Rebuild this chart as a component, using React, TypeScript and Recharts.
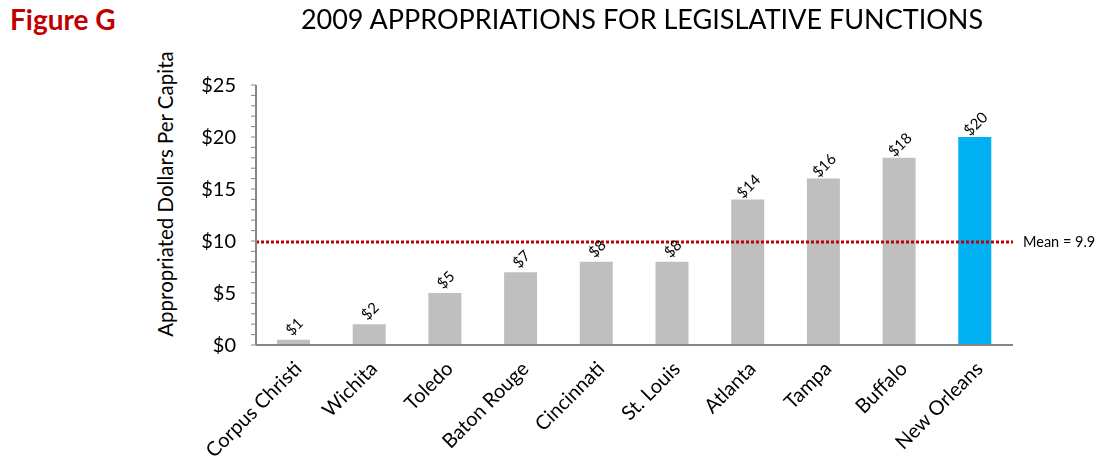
import { BarChart, Bar, XAxis, YAxis, Cell, LabelList, ReferenceLine } from 'recharts';

const cities = [
  'Corpus Christi',
  'Wichita',
  'Toledo',
  'Baton Rouge',
  'Cincinnati',
  'St. Louis',
  'Atlanta',
  'Tampa',
  'Buffalo',
  'New Orleans',
];
const perCapita = [0.5, 2, 5, 7, 8, 8, 14, 16, 18, 20];
const highlightCity = 'New Orleans';
const meanValue = 9.9;
const yTicks = [0, 1, 2, 3, 4, 5, 6, 7, 8, 9, 10, 11, 12, 13, 14, 15, 16, 17, 18, 19, 20, 21, 22, 23, 24, 25];
const yMajorTicks = [0, 5, 10, 15, 20, 25];

const FONT = 'Lato, "Open Sans", sans-serif';
const GRAY = '#bfbfbf';
const BLUE = '#00b0f0';
const AXIS = '#868686';

const data = cities.map((city, i) => ({ city, value: perCapita[i] }));

function YTick(props: any) {
  const { x, y, payload } = props;
  if (!yMajorTicks.includes(payload.value)) return null;
  return (
    <text x={x} y={y} dy={7} textAnchor="end" fontSize={20} fill="#000" fontFamily={FONT}>
      {`$${payload.value}`}
    </text>
  );
}

function XTick(props: any) {
  const { x, y, payload } = props;
  return (
    <g transform={`translate(${x + 9},${y + 17})`}>
      <text transform="rotate(-45)" textAnchor="end" fontSize={20} fill="#000" fontFamily={FONT}>
        {payload.value}
      </text>
    </g>
  );
}

function BarValue(props: any) {
  const { x, y, width, value } = props;
  const cx = x + width / 2 + 1;
  const cy = y - 13;
  return (
    <text
      x={cx}
      y={cy}
      dy={5}
      transform={`rotate(-45, ${cx}, ${cy})`}
      textAnchor="middle"
      fontSize={15}
      fill="#000"
      fontFamily={FONT}
    >
      {`$${Math.round(value)}`}
    </text>
  );
}

export default function App() {
  return (
    <div style={{ position: 'fixed', left: 0, top: 0, width: 1097, height: 466, background: '#fff', fontFamily: FONT }}>
      <div style={{ position: 'absolute', left: 10, top: 2, fontSize: 28, fontWeight: 700, color: '#c00000' }}>
        Figure G
      </div>
      <div style={{ position: 'absolute', left: 0, width: 1284, top: 2, textAlign: 'center', fontSize: 27, color: '#000' }}>
        2009 APPROPRIATIONS FOR LEGISLATIVE FUNCTIONS
      </div>
      <div
        style={{
          position: 'absolute',
          left: 165,
          top: 194,
          transform: 'translate(-50%, -50%) rotate(-90deg)',
          whiteSpace: 'nowrap',
          fontSize: 20.5,
          color: '#000',
        }}
      >
        Appropriated Dollars Per Capita
      </div>
      <BarChart
        width={1097}
        height={466}
        data={data}
        margin={{ top: 85, right: 84, left: 0, bottom: 0 }}
        barCategoryGap={0}
        style={{ position: 'absolute', left: 0, top: 0 }}
      >
        <XAxis
          dataKey="city"
          interval={0}
          height={121}
          tickLine={false}
          axisLine={{ stroke: AXIS, strokeWidth: 2 }}
          tick={<XTick />}
        />
        <YAxis
          width={256}
          domain={[0, 25]}
          ticks={yTicks}
          interval={0}
          tickSize={5}
          tickMargin={15}
          tickLine={{ stroke: AXIS }}
          axisLine={{ stroke: AXIS, strokeWidth: 2 }}
          tick={<YTick />}
        />
        <Bar dataKey="value" barSize={33} isAnimationActive={false}>
          {data.map((d) => (
            <Cell key={d.city} fill={d.city === highlightCity ? BLUE : GRAY} />
          ))}
          <LabelList dataKey="value" content={<BarValue />} />
        </Bar>
        <ReferenceLine
          y={meanValue}
          stroke="#c00000"
          strokeWidth={3}
          strokeDasharray="3 2"
          label={{ value: `Mean = ${meanValue}`, position: 'right', offset: 10, fontSize: 14.5, fill: '#000', fontFamily: FONT }}
        />
      </BarChart>
    </div>
  );
}
